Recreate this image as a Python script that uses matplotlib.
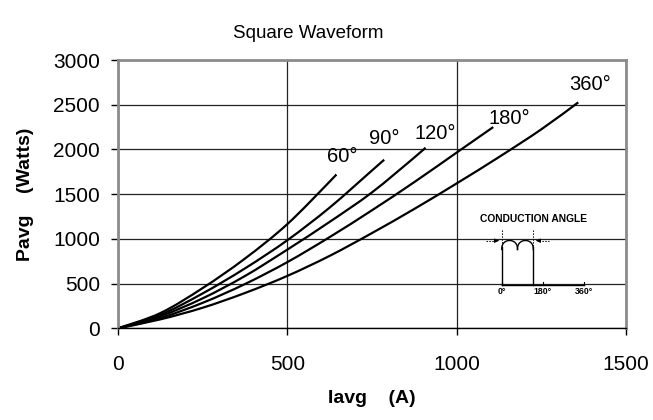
import numpy as np
import matplotlib
matplotlib.use("Agg")
import matplotlib.pyplot as plt
from matplotlib.path import Path
from matplotlib.patches import PathPatch

plt.rcParams['font.family'] = ['Liberation Sans', 'DejaVu Sans']

# Data (Iavg in A, Pavg in W)
i_60 = [0, 125, 250, 375, 500, 625, 643]
p_60 = [0, 170, 450, 780, 1165, 1640, 1715]
i_90 = [0, 125, 250, 375, 500, 625, 750, 786]
p_90 = [0, 150, 390, 670, 985, 1350, 1765, 1885]
i_120 = [0, 125, 250, 375, 500, 625, 750, 875, 908]
p_120 = [0, 135, 335, 585, 880, 1190, 1520, 1910, 2020]
i_180 = [0, 125, 250, 375, 500, 625, 750, 875, 1000, 1108]
p_180 = [0, 115, 285, 495, 740, 1020, 1320, 1635, 1965, 2250]
i_360 = [0, 125, 250, 375, 500, 625, 750, 875, 1000, 1125, 1250, 1359]
p_360 = [0, 100, 230, 395, 586, 810, 1065, 1335, 1620, 1915, 2225, 2526]

series = [("60°", i_60, p_60), ("90°", i_90, p_90), ("120°", i_120, p_120),
          ("180°", i_180, p_180), ("360°", i_360, p_360)]
label_pos = {"60°": (663, 1918), "90°": (785, 2120), "120°": (936, 2176),
             "180°": (1154, 2344), "360°": (1394, 2724)}

x_ticks = [0, 500, 1000, 1500]
y_ticks = [0, 500, 1000, 1500, 2000, 2500, 3000]


def smooth_path(xs, ys):
    """Smoothed-line rendering (Catmull-Rom as cubic Bezier) through the data points."""
    p = np.column_stack([xs, ys]).astype(float)
    n = len(p)
    verts = [p[0]]
    codes = [Path.MOVETO]
    for k in range(n - 1):
        pm = p[k - 1] if k > 0 else p[k]
        pp = p[k + 2] if k + 2 < n else p[k + 1]
        c1 = p[k] + (p[k + 1] - pm) / 6.0
        c2 = p[k + 1] - (pp - p[k]) / 6.0
        verts += [c1, c2, p[k + 1]]
        codes += [Path.CURVE4] * 3
    return Path(verts, codes)


W, H = 653, 420
fig = plt.figure(figsize=(W / 100, H / 100), dpi=100)
ax = fig.add_axes([118 / W, 1 - 328.3 / H, (626 - 118) / W, (328.3 - 60) / H])

for name, xs, ys in series:
    ax.add_patch(PathPatch(smooth_path(xs, ys), facecolor='none', edgecolor='black',
                           lw=1.6, capstyle='butt'))
    lx, ly = label_pos[name]
    ax.text(lx, ly, name, fontsize=14.5, ha='center', va='center')

ax.set_xlim(0, 1500)
ax.set_ylim(0, 3000)
ax.set_xticks(x_ticks)
ax.set_yticks(y_ticks)
ax.tick_params(axis='both', labelsize=15, direction='out', length=5, width=1, color='black')
ax.tick_params(axis='x', pad=14)
ax.tick_params(axis='y', pad=8)
ax.grid(True, color='#222222', lw=0.9)
ax.set_axisbelow(True)
for s in ['top', 'right', 'left']:
    ax.spines[s].set_color('#8c8c8c')
    ax.spines[s].set_linewidth(2)
ax.spines['bottom'].set_color('black')
ax.spines['bottom'].set_linewidth(1)

ax.set_xlabel('Iavg    (A)', fontsize=14, fontweight='bold', labelpad=12)
ax.set_ylabel('Pavg    (Watts)', fontsize=14, fontweight='bold', labelpad=14)
fig.text(308 / W, 1 - 33 / H, 'Square Waveform', fontsize=13.5, ha='center', va='center')

# Conduction-angle inset diagram (pixel-like coordinates)
ia = fig.add_axes([476 / W, 1 - 300 / H, (600 - 476) / W, (300 - 210) / H])
ia.set_xlim(476, 600)
ia.set_ylim(300, 210)
ia.axis('off')
ia.text(533, 219, 'CONDUCTION ANGLE', fontsize=7.4, fontweight='bold', ha='center', va='center')
x0, x1, x180, x360, base = 501.7, 533.3, 542.8, 584.0, 285.0
ia.plot([x0, x360], [base, base], color='black', lw=1)
for xt in [x0, x180, x360]:
    ia.plot([xt, xt], [base, base - 3], color='black', lw=0.8)
ia.plot([x0, x0], [base, 246.5], color='black', lw=1)
ia.plot([x1, x1], [base, 246.5], color='black', lw=1)
mid = (x0 + x1) / 2
t = np.linspace(0, np.pi, 30)
for a, b in [(x0, mid), (mid, x1)]:
    xs = a + (b - a) * (1 - np.cos(t)) / 2
    ys = 249.5 - 9 * np.sin(t) ** 0.8
    ia.plot(xs, ys, color='black', lw=1)
ia.plot([x0, x0], [230, 250], color='black', lw=0.7, ls=(0, (1.5, 1.5)))
ia.plot([x1, x1], [230, 250], color='black', lw=0.7, ls=(0, (1.5, 1.5)))
ia.plot([486, 496], [240.7, 240.7], color='black', lw=0.7, ls=(0, (1.5, 1.5)))
ia.plot([539, 549], [240.7, 240.7], color='black', lw=0.7, ls=(0, (1.5, 1.5)))
ia.annotate('', xy=(x0, 240.7), xytext=(495, 240.7),
            arrowprops=dict(arrowstyle='-|>', color='black', lw=0.7, mutation_scale=6))
ia.annotate('', xy=(x1, 240.7), xytext=(540, 240.7),
            arrowprops=dict(arrowstyle='-|>', color='black', lw=0.7, mutation_scale=6))
for xt, lab in [(x0, '0°'), (x180, '180°'), (x360, '360°')]:
    ia.text(xt, 291, lab, fontsize=6.3, fontweight='bold', ha='center', va='center')

fig.savefig('out.png', dpi=100, facecolor='white')
